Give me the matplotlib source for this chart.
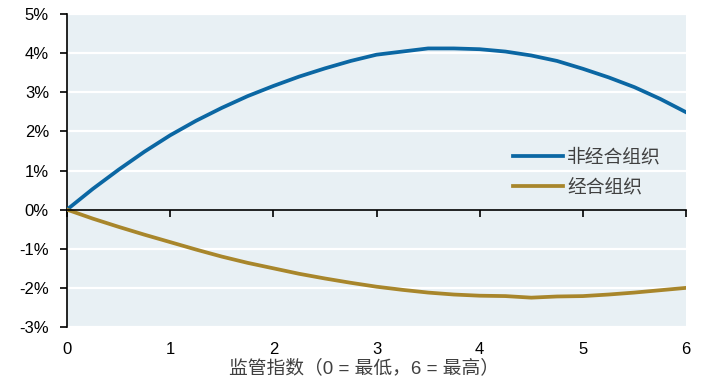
import numpy as np
import matplotlib.pyplot as plt
from matplotlib.ticker import FuncFormatter

# 监管指数
x = [0, 0.25, 0.5, 0.75, 1.0, 1.25, 1.5, 1.75, 2.0, 2.25, 2.5, 2.75, 3.0,
     3.25, 3.5, 3.75, 4.0, 4.25, 4.5, 4.75, 5.0, 5.25, 5.5, 5.75, 6.0]
# 非经合组织 (%)
non_oecd = [0.0, 0.53, 1.02, 1.48, 1.9, 2.27, 2.6, 2.9, 3.16, 3.4, 3.61, 3.8, 3.96,
            4.04, 4.12, 4.12, 4.1, 4.04, 3.94, 3.8, 3.6, 3.38, 3.13, 2.83, 2.49]
# 经合组织 (%)
oecd = [0.0, -0.23, -0.44, -0.64, -0.83, -1.02, -1.2, -1.36, -1.5, -1.64, -1.76, -1.87, -1.97,
        -2.05, -2.12, -2.17, -2.2, -2.21, -2.25, -2.22, -2.21, -2.17, -2.12, -2.06, -2.0]

labels = ['非经合组织', '经合组织']
xticks = [0, 1, 2, 3, 4, 5, 6]
yticks = [-3, -2, -1, 0, 1, 2, 3, 4, 5]

plt.rcParams['font.family'] = ['Liberation Sans', 'Noto Sans CJK SC', 'DejaVu Sans']

W, H = 703, 381
fig = plt.figure(figsize=(W / 100, H / 100), dpi=100)
ax = fig.add_axes([67 / W, 1 - 327 / H, (686 - 67) / W, (327 - 14) / H])
ax.set_facecolor('#E8F0F4')

for yv in yticks:
    if yv != 0:
        ax.axhline(yv, color='white', lw=1.6, zorder=1)

ax.plot(x, non_oecd, color='#0B67A3', lw=2.7, label=labels[0], zorder=3)
ax.plot(x, oecd, color='#A8862B', lw=2.7, label=labels[1], zorder=3)

ax.set_xlim(0, 6)
ax.set_ylim(-3, 5)
ax.set_yticks(yticks)
ax.yaxis.set_major_formatter(FuncFormatter(lambda v, p: f'{int(v)}%'))
ax.tick_params(axis='y', direction='out', length=5, width=1.2, labelsize=12, pad=8)

ax.spines['top'].set_visible(False)
ax.spines['right'].set_visible(False)
ax.spines['left'].set_linewidth(1.2)
ax.spines['bottom'].set_position(('data', 0))
ax.spines['bottom'].set_linewidth(1.2)
ax.spines['bottom'].set_zorder(4)
ax.set_xticks(xticks)
ax.tick_params(axis='x', direction='out', length=5, width=1.2, labelbottom=False)

sec = ax.secondary_xaxis('bottom')
sec.set_xticks(xticks)
sec.tick_params(length=0, labelsize=12, pad=11)
sec.spines['bottom'].set_visible(False)

fig.text(364 / W, 1 - 368 / H, '监管指数（0 = 最低，6 = 最高）', ha='center', va='center',
         fontsize=13.5, color='#404040',
         family=['Liberation Sans', 'Noto Sans CJK SC'])

leg = ax.legend(loc='upper left', bbox_to_anchor=(0.72, 0.578), frameon=False,
                borderpad=0, borderaxespad=0,
                handlelength=2.67, handletextpad=0.25, labelspacing=0.5,
                prop={'family': ['Noto Sans CJK SC'], 'size': 13.5})
for t in leg.get_texts():
    t.set_color('#404040')

fig.savefig('out.png', dpi=100)
